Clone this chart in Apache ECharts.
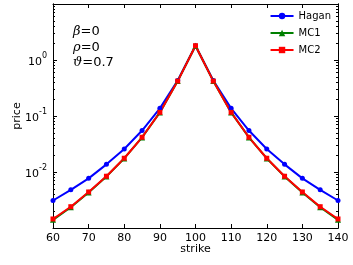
<!DOCTYPE html>
<html><head><meta charset="utf-8">
<script src="https://cdn.jsdelivr.net/npm/echarts@6/dist/echarts.min.js"></script>
<style>html,body{margin:0;padding:0;background:#fff}#c{width:353px;height:265px}</style>
</head><body><div id="c"></div>
<script>
var strikes = [60,65,70,75,80,85,90,95,100,105,110,115,120,125,130,135,140];
var hagan = [0.0031,0.0048,0.0077,0.0137,0.0257,0.055,0.137,0.43,1.8,0.43,0.137,0.055,0.0257,0.0137,0.0077,0.0048,0.0031];
var mc1 = [0.0014,0.00235,0.0043,0.0083,0.0175,0.0415,0.116,0.42,1.8,0.42,0.116,0.0415,0.0175,0.0083,0.0043,0.00235,0.0014];
var mc2 = [0.00145,0.0024,0.0044,0.0084,0.0176,0.0417,0.116,0.42,1.8,0.42,0.116,0.0417,0.0176,0.0084,0.0044,0.0024,0.00145];
var yExp = {'-2':'-2','-1':'-1','0':'0'};

var minor = [];
for (var e=-3; e<1; e++) for (var m=2; m<10; m++) minor.push(m*Math.pow(10,e));

function pairs(v){ return strikes.map(function(s,i){return [s,v[i]];}); }
var font = 'DejaVu Sans';
var chart = echarts.init(document.getElementById('c'));
var lineStyle = {color:'#000', width:1};
function yAx(pos, showLabel, ticks, len){
  return {type:'log', min:0.001, max:10, logBase:10, position:pos,
    axisLine:{show:true, lineStyle:lineStyle},
    splitLine:{show:false},
    axisTick:{show:true, inside:true, length:len, lineStyle:lineStyle, customValues:ticks},
    axisLabel:{show:showLabel, fontFamily:font, fontSize:11, color:'#000', margin:6,
      formatter:function(v){var k=Math.round(Math.log10(v)); return yExp[k]!==undefined ? '{b|10}{s|'+yExp[k]+'}' : '';},
      rich:{b:{fontFamily:font, fontSize:11, color:'#000', verticalAlign:'bottom', lineHeight:16},
            s:{fontFamily:font, fontSize:8, color:'#000', verticalAlign:'top', lineHeight:16}}},
    minorTick:{show:false}};
}
var majors=[0.001,0.01,0.1,1,10];
chart.setOption({
  animation:false,
  grid:{left:53, right:15, top:4, bottom:37, outerBoundsMode:'none', containLabel:false},
  xAxis:[
    {type:'value', min:60, max:140, interval:10, position:'bottom',
     name:'strike', nameLocation:'middle', nameGap:16, nameMoveOverlap:false,
     nameTextStyle:{fontFamily:font, fontSize:11, color:'#000', verticalAlign:'top'},
     axisLine:{lineStyle:lineStyle}, splitLine:{show:false},
     axisTick:{inside:true, length:4, lineStyle:lineStyle},
     axisLabel:{fontFamily:font, fontSize:11, color:'#000', margin:5}},
    {type:'value', min:60, max:140, interval:10, position:'top',
     axisLine:{show:true, lineStyle:lineStyle}, splitLine:{show:false},
     axisTick:{inside:true, length:4, lineStyle:lineStyle}, axisLabel:{show:false}}
  ],
  yAxis:[
    Object.assign(yAx('left', true, majors, 4), {name:'price', nameLocation:'middle', nameGap:30, nameRotate:90,
      nameMoveOverlap:false, nameTextStyle:{fontFamily:font, fontSize:11, color:'#000'}}),
    yAx('left', false, minor, 2),
    yAx('right', false, majors, 4),
    yAx('right', false, minor, 2)
  ],
  legend:{orient:'vertical', right:22, top:11, padding:0, itemWidth:23, itemHeight:8, itemGap:7,
    textStyle:{fontFamily:font, fontSize:10, color:'#000'}, data:['Hagan','MC1','MC2']},
  graphic:[
    {type:'text', left:73, top:25, style:{text:'{i|β}{n|=0}', rich:{i:{fontFamily:'DejaVu Serif', fontStyle:'italic', fontSize:13}, n:{fontFamily:'DejaVu Sans', fontSize:13}}}},
    {type:'text', left:73, top:41, style:{text:'{i|ρ}{n|=0}', rich:{i:{fontFamily:'DejaVu Serif', fontStyle:'italic', fontSize:13}, n:{fontFamily:'DejaVu Sans', fontSize:13}}}},
    {type:'text', left:73, top:56, style:{text:'{i|ϑ}{n|=0.7}', rich:{i:{fontFamily:'DejaVu Serif', fontStyle:'italic', fontSize:13}, n:{fontFamily:'DejaVu Sans', fontSize:13}}}}
  ],
  series:[
    {name:'Hagan', type:'line', data:pairs(hagan), symbol:'circle', symbolSize:5,
     lineStyle:{color:'#0000ff', width:2}, itemStyle:{color:'#0000ff'}},
    {name:'MC1', type:'line', data:pairs(mc1), symbol:'triangle', symbolSize:6,
     lineStyle:{color:'#008000', width:2}, itemStyle:{color:'#008000'}},
    {name:'MC2', type:'line', data:pairs(mc2), symbol:'rect', symbolSize:5,
     lineStyle:{color:'#ff0000', width:2}, itemStyle:{color:'#ff0000'}}
  ]
});
</script></body></html>
